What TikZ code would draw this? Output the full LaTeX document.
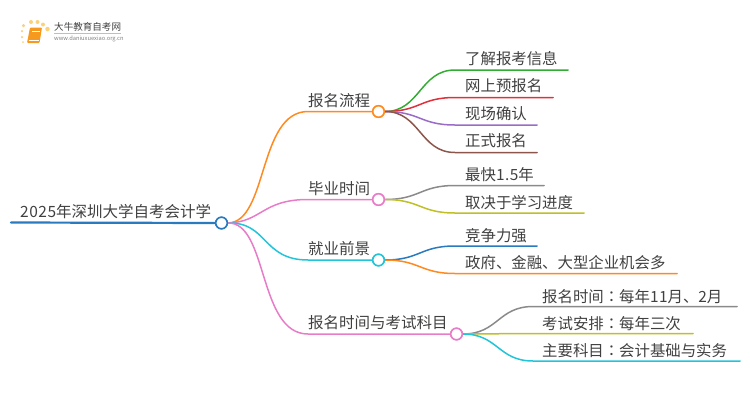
\documentclass[tikz,border=0pt]{standalone}
\usepackage{fontspec}
\setmainfont{Noto Sans CJK SC}
\newfontfamily\tcfont{Noto Sans CJK TC}
\newcommand{\dg}[1]{{\addfontfeatures{LetterSpace=3.5}#1}}
\newcommand{\cln}{{\tcfont ：}}
\definecolor{cblue}{HTML}{2A7ABF}
\definecolor{corange}{HTML}{FF8A1F}
\definecolor{cpink}{HTML}{E87CC8}
\definecolor{ccyan}{HTML}{22C4D8}
\definecolor{cgreen}{HTML}{32AC32}
\definecolor{cred}{HTML}{E0303A}
\definecolor{cpurple}{HTML}{9A6CC8}
\definecolor{cbrown}{HTML}{8C564B}
\definecolor{cgray}{HTML}{8A8A8A}
\definecolor{colive}{HTML}{BFBF26}
\definecolor{ctext}{HTML}{404040}
\definecolor{cbook}{HTML}{F59A1E}
\definecolor{cdot}{HTML}{FBD27A}
\tikzset{
  hub/.style={circle,draw=#1,fill=white,line width=1.5pt,minimum size=11.5pt,inner sep=0pt},
  link/.style={draw=#1,line width=1.5pt,line cap=round},
  label/.style={anchor=west,inner sep=0pt,text=ctext,font=\fontsize{15.5pt}{15.5pt}\selectfont},
  sublabel/.style={label,font=\fontsize{15.4pt}{15.4pt}\selectfont},
  dotm/.style={circle,fill=cdot,inner sep=0pt,minimum size=#1},
}
\begin{document}
\begin{tikzpicture}[x=1pt,y=-1pt]
\useasboundingbox (0,0) rectangle (750,410);
% hubs
\node[hub=cblue] (root) at (221.5,223) {};
\node[hub=corange] (a) at (378.5,111.5) {};
\node[hub=cpink] (b) at (378.5,199.5) {};
\node[hub=ccyan] (c) at (378.5,260) {};
\node[hub=cpink] (d) at (456.5,334) {};
% coordinates
\coordinate (rs) at (11,222.5);
\coordinate (ae) at (308,111.5);
\coordinate (be) at (308,199.5);
\coordinate (ce) at (308,260);
\coordinate (de) at (308,334);
\foreach \n/\y/\xs/\xe in {a1/70/455/568,a2/97.5/455/553,a3/125/455/537,a4/152.5/455/537,
  b1/185.5/455/544,b2/213/455/584,c1/246/455/537,c2/273.5/455/677,
  d1/306.5/533/737,d2/333.5/533/693,d3/361/533/740}{
  \coordinate (\n s) at (\xs,\y);
  \coordinate (\n e) at (\xe,\y);
}
% root and level one
\draw[link=cblue,line width=2.2pt] (rs) -- (root.west);
\draw[link=corange] (root.east) .. controls (268,222) and (258,111.5) .. (ae) -- (a.west);
\draw[link=cpink] (root.east) .. controls (262,222) and (262,199.5) .. (be) -- (b.west);
\draw[link=ccyan] (root.east) .. controls (268,222) and (262,260) .. (ce) -- (c.west);
\draw[link=cpink] (root.east) .. controls (268,222) and (258,334) .. (de) -- (d.west);
% level two
\foreach \h/\n/\col in {a/a1/cgreen,a/a2/cred,a/a3/cpurple,a/a4/cbrown,b/b1/cgray,b/b2/colive,c/c1/cblue,c/c2/corange}{
  \draw[link=\col] (\h.east) .. controls (420,0|-\h.east) and (420,0|-\n s) .. (\n s) -- (\n e);
}
\foreach \n/\col in {d1/cgray,d2/colive,d3/ccyan}{
  \draw[link=\col] (d.east) .. controls (498,334) and (498,0|-\n s) .. (\n s) -- (\n e);
}
% redraw hubs on top
\node[hub=cblue] at (root) {};
\node[hub=corange] at (a) {};
\node[hub=cpink] at (b) {};
\node[hub=ccyan] at (c) {};
\node[hub=cpink] at (d) {};
% labels
\node[label] (troot) at (20,211.5) {\dg{2025}年深圳大学自考会计学};
\node[label] (ta) at (308,100.5) {报名流程};
\node[label] (tb) at (308,188.5) {毕业时间};
\node[label] (tc) at (308,249) {就业前景};
\node[label] (td) at (308,323) {报名时间与考试科目};
\node[sublabel] (ta1) at (465,58.5) {了解报考信息};
\node[sublabel] (ta2) at (465,86) {网上预报名};
\node[sublabel] (ta3) at (465,113.5) {现场确认};
\node[sublabel] (ta4) at (465,141) {正式报名};
\node[sublabel] (tb1) at (465,175) {最快\dg{1.5}年};
\node[sublabel] (tb2) at (465,203) {取决于学习进度};
\node[sublabel] (tc1) at (465,236) {竞争力强};
\node[sublabel] (tc2) at (465,263) {政府、金融、大型企业机会多};
\node[sublabel] (td1) at (542,296.5) {报名时间\cln 每年\dg{11}月、\dg{2}月};
\node[sublabel] (td2) at (542,323.5) {考试安排\cln 每年三次};
\node[sublabel] (td3) at (542,351) {主要科目\cln 会计基础与实务};
% logo
\foreach \x/\y/\s in {22/37/2.5pt,22/31/2.5pt,23.5/25.5/3.5pt,31/22/4pt,37.5/22/4pt,43/24.5/4pt,47.5/29/4.5pt,23/42/2pt}{
  \node[dotm=\s] at (\x,\y) {};
}
\fill[cbook,rounded corners=1pt] (30,27.5) -- (42,27.5) -- (39.5,43) -- (27,43) -- cycle;
\draw[white,line width=.5pt] (32,31) -- (39.5,31);
\draw[white,line width=.5pt] (28.5,40) -- (38.5,40);
\node[anchor=west,inner sep=0pt,text=ctext,font=\fontsize{9.55pt}{9.55pt}\selectfont] (logoa) at (54,27) {大牛教育自考网};
\draw[gray!50,line width=.4pt] (54,33.3) -- (121,33.3);
\node[anchor=west,inner sep=0pt,text=gray,font=\fontsize{5.75pt}{5.75pt}\selectfont] (logob) at (54,38.5) {www.daniuxuexiao.org.cn};
\end{tikzpicture}
\end{document}
